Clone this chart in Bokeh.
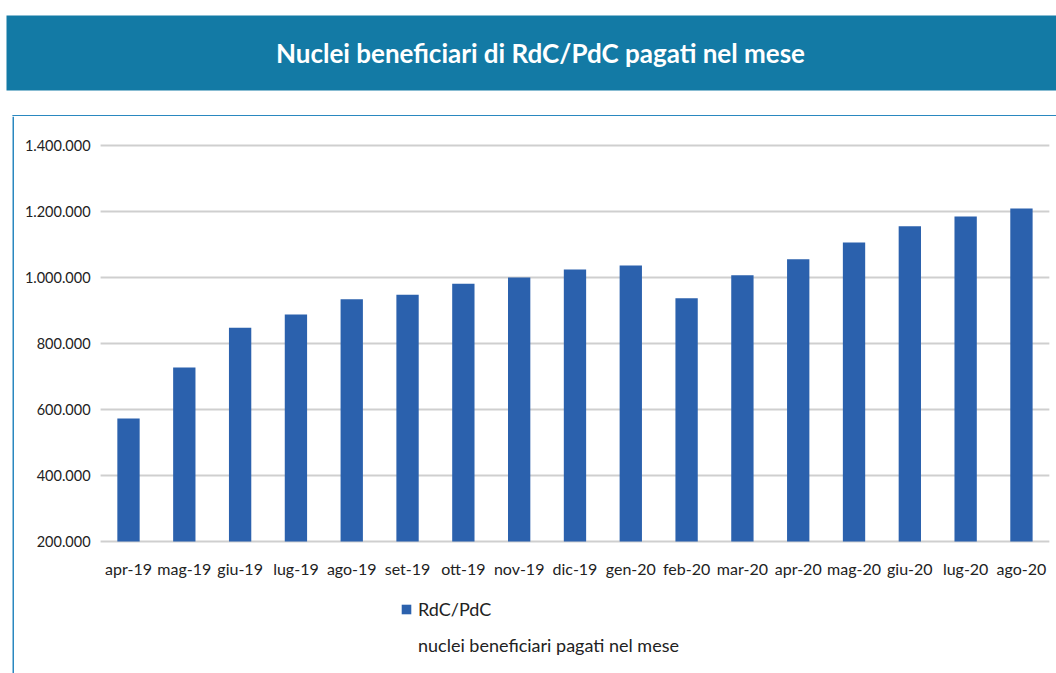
from bokeh.plotting import figure
from bokeh.models import (ColumnDataSource, Range1d, Legend, LegendItem, Span)
from bokeh.core.properties import value
from bokeh.embed import file_html
from bokeh.resources import INLINE

# ---- data ----
months = ["apr-19", "mag-19", "giu-19", "lug-19", "ago-19", "set-19", "ott-19",
          "nov-19", "dic-19", "gen-20", "feb-20", "mar-20", "apr-20", "mag-20",
          "giu-20", "lug-20", "ago-20"]
nuclei = [573000, 727000, 848000, 888000, 934000, 948000, 981000,
          1000000, 1024000, 1036000, 937000, 1007000, 1055000, 1106000,
          1155000, 1185000, 1209000]
y_ticks = [200000, 400000, 600000, 800000, 1000000, 1200000, 1400000]
title_text = "Nuclei beneficiari di RdC/PdC pagati nel mese"
series_name = "RdC/PdC"
series_desc = "nuclei beneficiari pagati nel mese"

FONT = "Lato"
BAR = "#2b61ad"
BOX = "#2a88c0"
TXT = "#222222"
W = 1056


def bare(fig):
    fig.axis.visible = False
    fig.grid.visible = False
    fig.outline_line_color = None
    fig.background_fill_color = "white"
    fig.border_fill_color = "white"
    return fig


# ---- banner (frame = whole canvas, pixel-like ranges) ----
BH = 116
banner = bare(figure(width=W, height=BH, x_range=Range1d(0, W), y_range=Range1d(BH, 0),
                     toolbar_location=None, output_backend="svg",
                     min_border=0, min_border_left=0, min_border_right=0,
                     min_border_top=0, min_border_bottom=0))
banner.quad(left=[6], right=[W], top=[15], bottom=[90], fill_color="#137aa5", line_color=None)
banner.text(x=[540], y=[52], text=[title_text], text_color="white",
            text_font=value(FONT), text_font_style="bold", text_font_size="26px",
            text_align="center", text_baseline="middle")
# top edge of the chart box
banner.segment(x0=[12], x1=[W], y0=[115.25], y1=[115.25], line_color=BOX, line_width=1.5)
banner.segment(x0=[12.75], x1=[12.75], y0=[115], y1=[BH], line_color=BOX, line_width=1.5)

# ---- chart (frame = whole canvas; scales place everything) ----
CH = 557
idx = list(range(len(months)))
src = ColumnDataSource(dict(i=idx, month=months, val=nuclei,
                            base=[y_ticks[0]] * len(months)))
tick_src = ColumnDataSource(dict(v=y_ticks, lab=[f"{v:,}".replace(",", ".") for v in y_ticks],
                                 x0=[-0.5] * len(y_ticks),
                                 x1=[len(months) - 0.5] * len(y_ticks)))

p = bare(figure(width=W, height=CH,
                x_range=Range1d(-2.2935, 16.628), y_range=Range1d(-200000, 1487879),
                toolbar_location=None, output_backend="svg",
                min_border=0, min_border_left=0, min_border_right=0,
                min_border_top=0, min_border_bottom=0))

# gridlines
p.segment(x0="x0", x1="x1", y0="v", y1="v", source=tick_src,
          line_color="#cfcfcf", line_width=2)
# bars
r = p.vbar(x="i", top="val", bottom="base", width=0.4, source=src,
           fill_color=BAR, line_color=None)
# y tick labels
p.text(x="x0", y="v", text="lab", source=tick_src, x_offset=-10,
       text_font=value(FONT), text_font_size="14.5px", text_color=TXT,
       text_align="right", text_baseline="middle")
# x tick labels
p.text(x="i", y="base", text="month", source=src, y_offset=27,
       text_font=value(FONT), text_font_size="16px", text_color=TXT,
       text_align="center", text_baseline="middle")

# left edge of the chart box
p.add_layout(Span(location=12.75, dimension="height", location_units="screen",
                  line_color=BOX, line_width=1.5))

dummy = p.scatter(x=[], y=[], size=0, fill_alpha=0, line_alpha=0)
legend = Legend(items=[LegendItem(label=series_name, renderers=[r]),
                       LegendItem(label=series_desc, renderers=[dummy])],
                location=(400, 17), padding=0, margin=0, spacing=14,
                glyph_width=12, glyph_height=12, label_standoff=6, label_height=20,
                label_text_font=FONT, label_text_font_size="18px",
                label_text_color=TXT, border_line_color=None,
                background_fill_alpha=0)
p.add_layout(legend, "center")

open("out.html", "w").write(file_html([banner, p], INLINE))
